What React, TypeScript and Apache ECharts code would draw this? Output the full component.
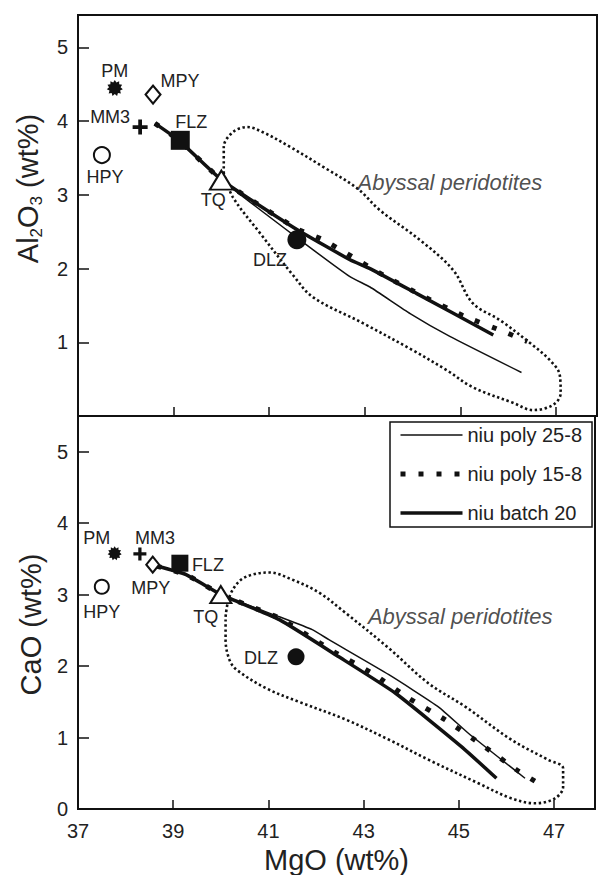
import React, { useEffect, useRef } from "react";
import * as echarts from "echarts";

// ---------- data ----------
const mgoTicks = [37, 39, 41, 43, 45, 47];

const samples = ["PM", "MPY", "MM3", "HPY", "FLZ", "TQ", "DLZ"];
const sampleMgO = [37.77, 38.57, 38.3, 37.5, 39.14, 40.0, 41.58];
const sampleAl2O3 = [4.45, 4.36, 3.92, 3.54, 3.74, 3.2, 2.39];
const sampleCaO = [3.58, 3.42, 3.57, 3.11, 3.44, 3.0, 2.13];

// Al2O3 vs MgO model curves
const poly258Al = [
  [38.61, 3.97], [39.11, 3.74], [40.01, 3.2], [41.58, 2.42], [42.69, 1.89],
  [43.11, 1.75], [43.95, 1.39], [44.78, 1.08], [46.28, 0.59],
];
const poly158Al = [
  [38.61, 3.97], [39.11, 3.74], [40.01, 3.2], [41.58, 2.54], [42.13, 2.39],
  [43.39, 1.91], [44.21, 1.63], [45.06, 1.36], [45.93, 1.14], [46.4, 1.01],
];
const batch20Al = [
  [38.61, 3.97], [39.11, 3.74], [40.01, 3.2], [41.58, 2.53], [42.69, 2.12],
  [43.11, 2.0], [44.09, 1.66], [45.69, 1.1],
];
// CaO vs MgO model curves
const poly258Ca = [
  [38.65, 3.4], [39.27, 3.28], [40.01, 3.0], [41.23, 2.69], [41.92, 2.51],
  [42.27, 2.37], [43.53, 1.88], [44.57, 1.43], [45.2, 1.06], [46.39, 0.43],
];
const poly158Ca = [
  [38.65, 3.4], [39.27, 3.28], [40.01, 3.0], [41.23, 2.67], [42.38, 2.2],
  [43.18, 1.9], [43.95, 1.55], [44.71, 1.25], [45.48, 0.9], [46.21, 0.55], [46.6, 0.39],
];
const batch20Ca = [
  [38.65, 3.4], [39.27, 3.28], [40.01, 3.0], [41.23, 2.65], [42.48, 2.13],
  [43.67, 1.62], [45.06, 0.87], [45.79, 0.43],
];

// Abyssal peridotite fields (outlines)
const abyssalAl = [
  [40.05, 3.29], [40.05, 3.65], [40.24, 3.85], [40.54, 3.92], [40.87, 3.85],
  [41.44, 3.65], [42.13, 3.38], [42.84, 3.09], [43.32, 2.79], [44.15, 2.39],
  [44.85, 1.98], [45.26, 1.53], [45.83, 1.3], [46.46, 0.99], [46.87, 0.76],
  [47.08, 0.56], [47.1, 0.31], [46.94, 0.15], [46.52, 0.08], [46.1, 0.18],
  [45.26, 0.39], [44.72, 0.62], [44.01, 0.89], [42.96, 1.26], [41.92, 1.61],
  [41.5, 1.91], [40.81, 2.48], [40.24, 2.97], [40.05, 3.29],
];
const abyssalCa = [
  [40.1, 2.69], [40.18, 2.97], [40.39, 3.19], [40.66, 3.28], [41.02, 3.31],
  [41.5, 3.21], [42.06, 3.03], [42.59, 2.76], [43.53, 2.25], [44.36, 1.76],
  [45.14, 1.43], [46.1, 0.97], [46.87, 0.69], [47.19, 0.57], [47.19, 0.31],
  [47.02, 0.15], [46.6, 0.08], [46.1, 0.15], [45.41, 0.36], [44.36, 0.69],
  [43.53, 0.97], [42.63, 1.25], [41.64, 1.5], [40.95, 1.69], [40.33, 1.95],
  [40.18, 2.09], [40.1, 2.37], [40.1, 2.69],
];
const fieldLabel = "Abyssal peridotites";
const fieldLabelAl = [44.78, 3.17];
const fieldLabelCa = [45.03, 2.7];

const seriesNames = ["niu poly 25-8", "niu poly 15-8", "niu batch 20"];

// ---------- styles ----------
const FONT = "'Liberation Sans', Arial, Helvetica, sans-serif";
const INK = "#111";
const TXT = "#222";

function starPath(n: number, rIn: number) {
  let d = "";
  for (let i = 0; i < 2 * n; i++) {
    const r = i % 2 ? rIn : 1;
    const a = (Math.PI * i) / n - Math.PI / 2;
    d += (i ? "L" : "M") + (10 + 10 * r * Math.cos(a)).toFixed(2) + "," + (10 + 10 * r * Math.sin(a)).toFixed(2);
  }
  return "path://" + d + "Z";
}
const crossPath = "path://M3,0H5V3H8V5H5V8H3V5H0V3H3Z";

const symbolStyle: Record<string, any> = {
  PM: { symbol: starPath(11, 0.72), size: 16, hollow: false },
  MPY: { symbol: "diamond", size: [15, 18], hollow: true },
  MM3: { symbol: crossPath, size: 15, hollow: false },
  HPY: { symbol: "circle", size: 16, hollow: true },
  FLZ: { symbol: "rect", size: 19, hollow: false },
  TQ: { symbol: "triangle", size: [23, 19], hollow: true },
  DLZ: { symbol: "circle", size: 19, hollow: false },
};
const labelOffsetTop: Record<string, number[]> = {
  PM: [0, -17], MPY: [27, -14], MM3: [-30, -10], HPY: [3, 22],
  FLZ: [11, -18], TQ: [-8, 20], DLZ: [-27, 20],
};
const labelOffsetBottom: Record<string, number[]> = {
  PM: [-18, -15], MM3: [15, -16], MPY: [-2, 23], FLZ: [28, 2],
  HPY: [0, 25], TQ: [-15, 22], DLZ: [-35, 1],
};

function sampleSeries(yVals: number[], offsets: Record<string, number[]>, gi: number, shrink: number) {
  return {
    type: "scatter",
    xAxisIndex: gi,
    yAxisIndex: gi,
    z: 5,
    data: samples.map((s, i) => {
      const st = symbolStyle[s];
      const size = Array.isArray(st.size) ? st.size.map((v: number) => v - shrink) : st.size - shrink;
      return {
        name: s,
        value: [sampleMgO[i], yVals[i]],
        symbol: st.symbol,
        symbolSize: size,
        itemStyle: st.hollow
          ? { color: "#fff", borderColor: INK, borderWidth: 2, opacity: 1 }
          : { color: INK, borderWidth: 0, opacity: 1 },
        label: {
          show: true,
          formatter: s,
          position: "inside",
          offset: offsets[s],
          color: TXT,
          fontSize: 18,
          fontFamily: FONT,
          textBorderWidth: 0,
        },
      };
    }),
  };
}

function curveSeries(name: string, data: number[][], gi: number) {
  const styles: Record<string, any> = {
    "niu poly 25-8": { width: 1.5, type: "solid" },
    "niu poly 15-8": { width: 5, type: [5, 13] },
    "niu batch 20": { width: 3.5, type: "solid" },
  };
  return {
    type: "line",
    name,
    xAxisIndex: gi,
    yAxisIndex: gi,
    data,
    symbol: "none",
    smooth: 0.15,
    z: 3,
    lineStyle: { color: INK, cap: "butt", ...styles[name] },
    itemStyle: { color: INK },
  };
}

function fieldSeries(data: number[][], gi: number) {
  return {
    type: "line",
    xAxisIndex: gi,
    yAxisIndex: gi,
    data,
    symbol: "none",
    smooth: 0.35,
    z: 2,
    lineStyle: { color: INK, width: 2.6, type: [2.4, 2.6] },
  };
}

function fieldLabelSeries(pos: number[], gi: number) {
  return {
    type: "scatter",
    xAxisIndex: gi,
    yAxisIndex: gi,
    symbolSize: 0,
    z: 4,
    data: [{ value: pos }],
    label: {
      show: true,
      position: "inside",
      formatter: fieldLabel,
      fontStyle: "italic",
      fontSize: 22,
      fontFamily: FONT,
      color: TXT,
      textBorderWidth: 0,
    },
  };
}

const axisLine = { show: true, lineStyle: { color: INK, width: 2 } };

export default function App() {
  const ref = useRef<HTMLDivElement>(null);
  useEffect(() => {
    if (!ref.current) return;
    const chart = echarts.init(ref.current, null, { renderer: "svg" });
    const xCommon = {
      type: "value",
      min: 37,
      max: 47.86,
      interval: 2,
      axisLine,
      axisTick: { show: true, inside: true, length: 9, lineStyle: { color: INK, width: 1.5 } },
      splitLine: { show: false },
    };
    const yCommon = {
      type: "value",
      min: 0,
      interval: 1,
      axisLine,
      axisTick: { show: true, inside: true, length: 11, lineStyle: { color: INK, width: 1.5 } },
      splitLine: { show: false },
      nameLocation: "middle",
      nameGap: 33,
    };
    const option: any = {
      animation: false,
      backgroundColor: "#fff",
      textStyle: { fontFamily: FONT },
      grid: [
        { left: 78, top: 15, width: 519, height: 401, show: true, borderColor: INK, borderWidth: 2 },
        { left: 78, top: 416, width: 519, height: 393, show: true, borderColor: INK, borderWidth: 2 },
      ],
      xAxis: [
        { ...xCommon, gridIndex: 0, axisLabel: { show: false } },
        {
          ...xCommon,
          gridIndex: 1,
          axisLabel: {
            show: true,
            fontSize: 20,
            color: TXT,
            margin: 12,
            fontFamily: FONT,
            formatter: (v: number) => (mgoTicks.includes(v) ? String(v) : ""),
          },
          name: "MgO (wt%)",
          nameLocation: "middle",
          nameGap: 36,
          nameTextStyle: { fontSize: 29, color: TXT, fontFamily: FONT },
        },
      ],
      yAxis: [
        {
          ...yCommon,
          gridIndex: 0,
          max: 5.44,
          axisLabel: {
            fontSize: 20, color: TXT, margin: 10, fontFamily: FONT,
            formatter: (v: number) => (Number.isInteger(v) && v >= 1 && v <= 5 ? String(v) : ""),
          },
          name: "{a|Al}{s|2}{a|O}{s|3}{a| (wt%)}",
          nameTextStyle: {
            padding: [0, 0, 0, 54],
            rich: {
              a: { fontSize: 29, color: TXT, fontFamily: FONT, lineHeight: 34 },
              s: { fontSize: 17, color: TXT, fontFamily: FONT, lineHeight: 17, verticalAlign: "bottom" },
            },
          },
        },
        {
          ...yCommon,
          gridIndex: 1,
          max: 5.5,
          axisLabel: {
            fontSize: 20, color: TXT, margin: 10, fontFamily: FONT,
            formatter: (v: number) => (Number.isInteger(v) && v <= 5 ? String(v) : ""),
          },
          name: "CaO (wt%)",
          nameTextStyle: { fontSize: 29, color: TXT, fontFamily: FONT, padding: [0, 24, 0, 0] },
        },
      ],
      legend: {
        data: seriesNames,
        orient: "vertical",
        left: 390,
        top: 422,
        itemWidth: 62,
        itemHeight: 14,
        itemGap: 19,
        padding: [3, 10, 4, 8],
        borderColor: INK,
        borderWidth: 1.5,
        selectedMode: false,
        itemStyle: { opacity: 0 },
        lineStyle: { width: "inherit" },
        textStyle: { fontSize: 20, color: TXT, fontFamily: FONT },
      },
      series: [
        fieldSeries(abyssalAl, 0),
        curveSeries(seriesNames[0], poly258Al, 0),
        curveSeries(seriesNames[1], poly158Al, 0),
        curveSeries(seriesNames[2], batch20Al, 0),
        sampleSeries(sampleAl2O3, labelOffsetTop, 0, 0),
        fieldLabelSeries(fieldLabelAl, 0),
        fieldSeries(abyssalCa, 1),
        curveSeries(seriesNames[0], poly258Ca, 1),
        curveSeries(seriesNames[1], poly158Ca, 1),
        curveSeries(seriesNames[2], batch20Ca, 1),
        sampleSeries(sampleCaO, labelOffsetBottom, 1, 2),
        fieldLabelSeries(fieldLabelCa, 1),
      ],
    };
    chart.setOption(option);
    return () => chart.dispose();
  }, []);
  return (
    <div
      ref={ref}
      style={{ position: "fixed", left: 0, top: 0, width: 598, height: 875, background: "#fff" }}
    />
  );
}
